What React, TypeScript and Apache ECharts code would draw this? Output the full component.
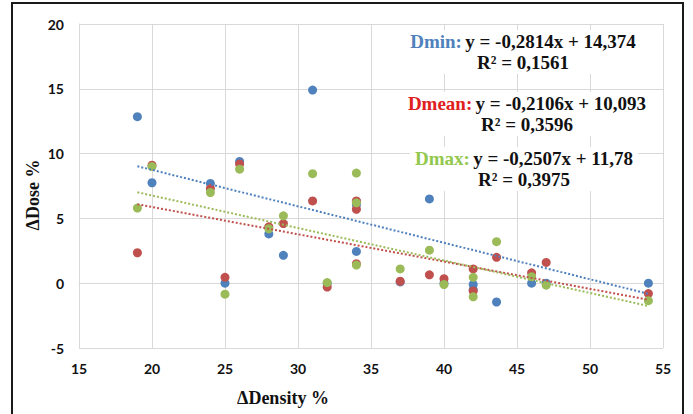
import React, { useEffect, useRef } from "react";
import * as echarts from "echarts";

// Sample x values (ΔDensity %)
const xValues = [19, 20, 24, 25, 26, 28, 29, 31, 32, 34, 34, 34, 37, 39, 40, 42, 42, 43.6, 46, 47, 54];
// ΔDose % per series
const dminValues = [12.85, 7.75, 7.7, 0.0, 9.4, 3.8, 2.15, 14.9, 0.0, 6.3, 6.05, 2.45, 0.1, 6.5, 0.0, -0.1, -0.5, -1.45, 0.0, 0.0, 0.0];
const dmeanValues = [2.35, 9.1, 7.3, 0.45, 9.2, 4.35, 4.6, 6.35, -0.3, 6.35, 5.7, 1.5, 0.15, 0.65, 0.35, 1.1, -0.6, 2.0, 0.8, 1.6, -0.8];
const dmaxValues = [5.8, 9.0, 7.0, -0.85, 8.8, 4.2, 5.2, 8.45, 0.05, 8.5, 6.2, 1.4, 1.1, 2.55, -0.1, 0.45, -1.05, 3.2, 0.5, -0.15, -1.35];

const seriesNames = ["Dmin", "Dmean", "Dmax"];
const markerColors = ["#4F81BD", "#C0504D", "#9BBB59"];
const labelColors = ["#4F81BD", "#E02020", "#92C84E"];
const trendSlopes = [-0.2814, -0.2106, -0.2507];
const trendIntercepts = [14.374, 10.093, 11.78];
const equationTexts = ["y = -0,2814x + 14,374", "y = -0,2106x + 10,093", "y = -0,2507x + 11,78"];
const r2Texts = ["R² = 0,1561", "R² = 0,3596", "R² = 0,3975"];

const xTicks = { min: 15, max: 55, interval: 5 };
const yTicks = { min: -5, max: 20, interval: 5 };

export default function App() {
  const ref = useRef<HTMLDivElement>(null);
  useEffect(() => {
    if (!ref.current) return;
    const chart = echarts.init(ref.current, undefined, { renderer: "svg" });
    const allValues = [dminValues, dmeanValues, dmaxValues];
    const xMin = Math.min(...xValues);
    const xMax = Math.max(...xValues);

    const scatterSeries = allValues.map((vals, i) => ({
      name: seriesNames[i],
      type: "scatter",
      symbolSize: 9,
      itemStyle: { color: markerColors[i], opacity: 1 },
      data: xValues.map((x, j) => [x, vals[j]]),
      z: 3 + i,
    }));
    const trendSeries = allValues.map((_, i) => ({
      name: seriesNames[i] + " trend",
      type: "line",
      symbol: "none",
      lineStyle: { color: markerColors[i], width: 2, type: [2, 2] },
      data: [
        [xMin, trendSlopes[i] * xMin + trendIntercepts[i]],
        [xMax, trendSlopes[i] * xMax + trendIntercepts[i]],
      ],
      z: 7,
    }));

    const blockCenters = [52, 114, 169];
    const blockX = [523, 527, 524];
    const serif = "'Liberation Serif', 'Times New Roman', serif";
    const eqGraphics = seriesNames.map((name, i) => ({
      type: "text",
      z: 100,
      style: {
        x: blockX[i],
        y: blockCenters[i],
        align: "center",
        verticalAlign: "middle",
        text: `{a|${name}:} {b|${equationTexts[i]}}\n{b|${r2Texts[i]}}`,
        backgroundColor: "#ffffff",
        padding: [1, 5],
        rich: {
          a: { fontFamily: serif, fontWeight: "bold", fontSize: 19, fill: labelColors[i], lineHeight: 21 },
          b: { fontFamily: serif, fontWeight: "bold", fontSize: 19, fill: "#111", lineHeight: 21 },
        },
      },
    }));

    chart.setOption({
      animation: false,
      backgroundColor: "#ffffff",
      grid: { left: 79, right: 30, top: 24, bottom: 66 },
      xAxis: {
        type: "value",
        min: xTicks.min,
        max: xTicks.max,
        interval: xTicks.interval,
        axisLine: { show: true, lineStyle: { color: "#d9d9d9" } },
        axisTick: { show: false },
        splitLine: { show: true, lineStyle: { color: "#d9d9d9", width: 1 } },
        axisLabel: { color: "#111", fontFamily: "Lato", fontWeight: "bold", fontSize: 14, margin: 13 },
      },
      yAxis: {
        type: "value",
        min: yTicks.min,
        max: yTicks.max,
        interval: yTicks.interval,
        axisLine: { show: true, lineStyle: { color: "#d9d9d9" } },
        axisTick: { show: false },
        splitLine: { show: true, lineStyle: { color: "#d9d9d9", width: 1 } },
        axisLabel: { color: "#111", fontFamily: "Lato", fontWeight: "bold", fontSize: 14, margin: 15 },
      },
      series: [...scatterSeries, ...trendSeries],
      graphic: [
        {
          type: "rect",
          z: 200,
          shape: { x: 12, y: 3, width: 671, height: 430 },
          style: { fill: "none", stroke: "#1a1a1a", lineWidth: 2 },
        },
        {
          type: "text",
          z: 100,
          style: {
            x: 283,
            y: 398,
            align: "center",
            verticalAlign: "middle",
            text: "ΔDensity %",
            fontFamily: serif,
            fontWeight: "bold",
            fontSize: 18,
            fill: "#111",
          },
        },
        {
          type: "text",
          z: 100,
          x: 33,
          y: 195,
          rotation: Math.PI / 2,
          style: {
            x: 0,
            y: 0,
            align: "center",
            verticalAlign: "middle",
            text: "ΔDose %",
            fontFamily: serif,
            fontWeight: "bold",
            fontSize: 18,
            fill: "#111",
          },
        },
        ...eqGraphics,
      ],
    });
    return () => chart.dispose();
  }, []);
  return <div ref={ref} style={{ position: "absolute", left: 0, top: 0, width: 693, height: 414 }} />;
}
